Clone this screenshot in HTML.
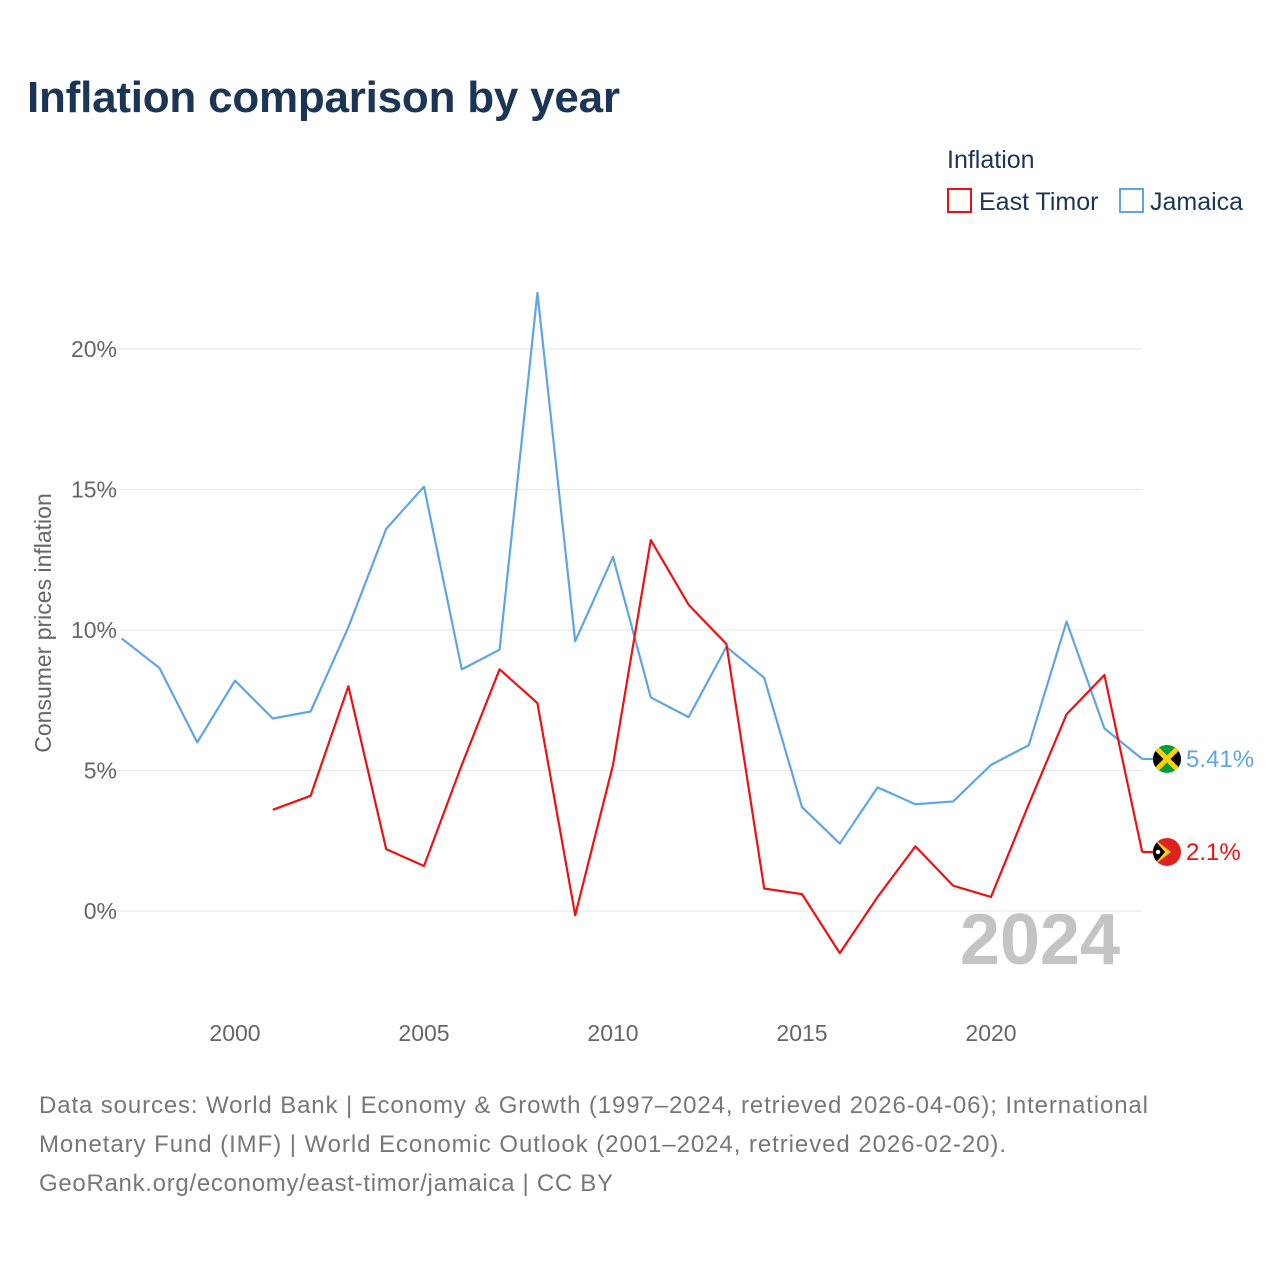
<!DOCTYPE html>
<html><head><meta charset="utf-8"><style>
body{margin:0;background:#fff;font-family:"Liberation Sans",sans-serif}
</style></head><body>
<svg width="1280" height="1280" xmlns="http://www.w3.org/2000/svg" style="font-family:'Liberation Sans',sans-serif">
<defs>
<clipPath id="cj"><circle cx="1167" cy="0" r="14"/></clipPath>
</defs>
<text x="27" y="112" font-size="44" font-weight="bold" fill="#1b3556" textLength="593">Inflation comparison by year</text>
<text x="947" y="168" font-size="25" fill="#1b3556">Inflation</text>
<g><rect x="948" y="189" width="23" height="23" fill="none" stroke="#ee1111" stroke-width="2"/><text x="979" y="210" font-size="25" fill="#1b3556">East Timor</text></g>
<g><rect x="1120" y="189" width="23" height="23" fill="none" stroke="#5da5e8" stroke-width="2"/><text x="1150" y="210" font-size="25" fill="#1b3556">Jamaica</text></g>
<g id="grid"></g><g id="ylab"></g><g id="xlab"></g>
<text transform="translate(51,623) rotate(-90)" text-anchor="middle" font-size="23" fill="#666">Consumer prices inflation</text>
<text x="1120" y="964" text-anchor="end" font-size="72" font-weight="bold" fill="#c4c4c4">2024</text>
<g id="series"></g>
<g font-size="24" fill="#777">
<text x="39" y="1113" textLength="1109">Data sources: World Bank | Economy &amp; Growth (1997–2024, retrieved 2026-04-06); International</text>
<text x="39" y="1152" textLength="967">Monetary Fund (IMF) | World Economic Outlook (2001–2024, retrieved 2026-02-20).</text>
<text x="39" y="1191" textLength="574">GeoRank.org/economy/east-timor/jamaica | CC BY</text>
</g>
</svg>
<script>
const years=[1997,1998,1999,2000,2001,2002,2003,2004,2005,2006,2007,2008,2009,2010,2011,2012,2013,2014,2015,2016,2017,2018,2019,2020,2021,2022,2023,2024];
const jamaica=[9.7,8.65,6.0,8.2,6.85,7.1,10.1,13.6,15.1,8.6,9.3,22.0,9.6,12.6,7.6,6.9,9.4,8.3,3.7,2.4,4.4,3.8,3.9,5.2,5.9,10.3,6.5,5.41];
const eastTimor=[null,null,null,null,3.6,4.1,8.0,2.2,1.6,5.2,8.6,7.4,-0.15,5.2,13.2,10.9,9.5,0.8,0.6,-1.5,0.5,2.3,0.9,0.5,3.8,7.0,8.4,2.1];
const yTicks=[0,5,10,15,20];
const xTicks=[2000,2005,2010,2015,2020];
const NS="http://www.w3.org/2000/svg";
const X=y=>121.6+(y-1997)*37.8;
const Y=v=>911-v*28.1;
function mk(t,a,p){const e=document.createElementNS(NS,t);for(const k in a)e.setAttribute(k,a[k]);p.appendChild(e);return e;}
const g=document.getElementById('grid'),yl=document.getElementById('ylab'),xl=document.getElementById('xlab'),s=document.getElementById('series');
yTicks.forEach(v=>{
const l=mk('line',{x1:97,x2:1142,y1:Y(v),y2:Y(v),stroke:'#e6e6e6'},g);


const t=mk('text',{x:117,y:Y(v)+8,'text-anchor':'end','font-size':23,fill:'#666'},yl);t.textContent=v+'%';


});
xTicks.forEach(v=>{
const t=mk('text',{x:X(v),y:1041,'text-anchor':'middle','font-size':23,fill:'#666'},xl);t.textContent=v;


});
function flag(name,cy){
const cx=1167,r=14;
const grp=mk('g',{},s);


const cpid='clip-'+name;
const cp=mk('clipPath',{id:cpid},grp);mk('circle',{cx:cx,cy:cy,r:r},cp);
const inner=mk('g',{'clip-path':'url(#'+cpid+')'},grp);
if(name==='jamaica'){
mk('rect',{x:cx-r,y:cy-r,width:2*r,height:2*r,fill:'#009b3a'},inner);
mk('polygon',{points:`${cx-r},${cy-r} ${cx},${cy} ${cx-r},${cy+r}`,fill:'#000'},inner);
mk('polygon',{points:`${cx+r},${cy-r} ${cx},${cy} ${cx+r},${cy+r}`,fill:'#000'},inner);
mk('line',{x1:cx-r,y1:cy-r,x2:cx+r,y2:cy+r,stroke:'#fed100','stroke-width':5},inner);
mk('line',{x1:cx-r,y1:cy+r,x2:cx+r,y2:cy-r,stroke:'#fed100','stroke-width':5},inner);
}else{
mk('rect',{x:cx-r,y:cy-r,width:2*r,height:2*r,fill:'#dc241f'},inner);
mk('polygon',{points:`${cx-r},${cy-r} ${cx+4},${cy} ${cx-r},${cy+r}`,fill:'#ffc726'},inner);
mk('polygon',{points:`${cx-r},${cy-r} ${cx-2},${cy} ${cx-r},${cy+r}`,fill:'#000'},inner);
mk('circle',{cx:cx-9,cy:cy,r:2.2,fill:'#fff'},inner);
}
}
function line(vals,col,name){
let d='';vals.forEach((v,i)=>{if(v==null)return;d+=(d?'L':'M')+X(years[i])+','+Y(v);});
const p=mk('path',{d:d,fill:'none',stroke:col,'stroke-width':2.2,'stroke-linejoin':'round'},s);


const last=vals[vals.length-1];
d='M'+X(2024)+','+Y(last)+'L'+(X(2024)+12)+','+Y(last);
mk('path',{d:d,stroke:col,'stroke-width':2.2},s);
flag(name,Y(last));
const t=mk('text',{x:1186,y:Y(last)+8,'font-size':24,fill:col},s);t.textContent=last+'%';


}
line(jamaica,'#5da5e8','jamaica');
line(eastTimor,'#ee1111','east-timor');
</script>
</body></html>
